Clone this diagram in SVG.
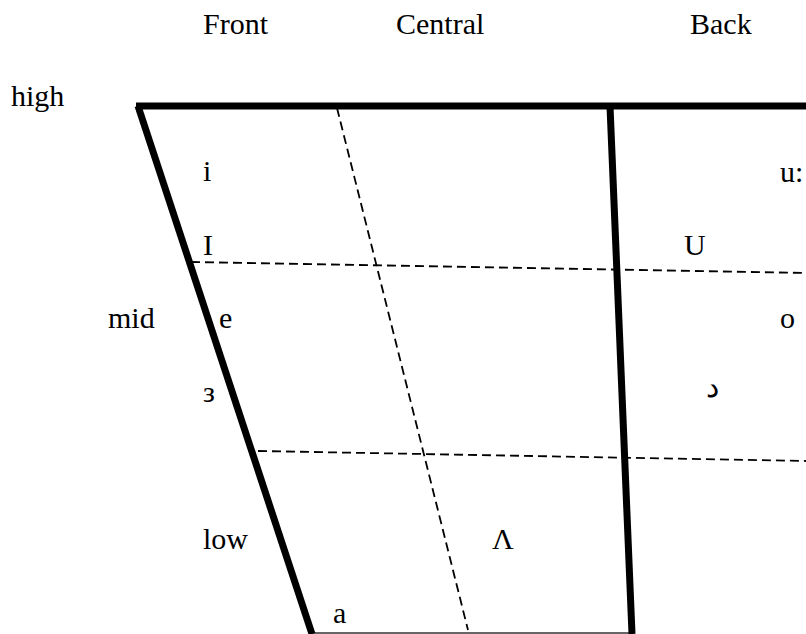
<svg xmlns="http://www.w3.org/2000/svg" width="806" height="634" viewBox="0 0 806 634">
<style>
text{font-family:"Liberation Serif","Times New Roman",serif;font-size:30px;fill:#000}
.thick{stroke:#000;stroke-width:7;fill:none;stroke-linecap:butt}
.dash{stroke:#000;stroke-width:1.8;fill:none;stroke-dasharray:9 5}
.thin{stroke:#333;stroke-width:1.5;fill:none}
</style>
<rect width="806" height="634" fill="#fff"/>
<g id="connectors">
<line class="dash" x1="337" y1="108" x2="468" y2="630"/>
<line class="dash" x1="191" y1="262" x2="806" y2="273"/>
<line class="dash" x1="258" y1="451" x2="806" y2="461"/>
<line class="thin" x1="310" y1="633" x2="634" y2="633"/>
<line class="thick" x1="136" y1="106" x2="806" y2="106"/>
<line class="thick" x1="138" y1="106" x2="312" y2="634"/>
<line class="thick" x1="610" y1="106" x2="632" y2="634"/>
</g>
<g id="headers">
<text x="203" y="34">Front</text>
<text x="396" y="34">Central</text>
<text x="690" y="34">Back</text>
</g>
<g id="heights">
<text x="11" y="106">high</text>
<text x="108" y="328">mid</text>
<text x="203" y="549">low</text>
</g>
<g id="vowels">
<text x="203" y="181">i</text>
<text x="203" y="255">I</text>
<text x="780" y="182">u:</text>
<text x="684" y="255">U</text>
<text x="219" y="328">e</text>
<text x="780" y="328">o</text>
<text x="203" y="402">з</text>
<text x="706" y="397">د</text>
<text x="492" y="549">Λ</text>
<text x="333" y="623">a</text>
</g>
</svg>
